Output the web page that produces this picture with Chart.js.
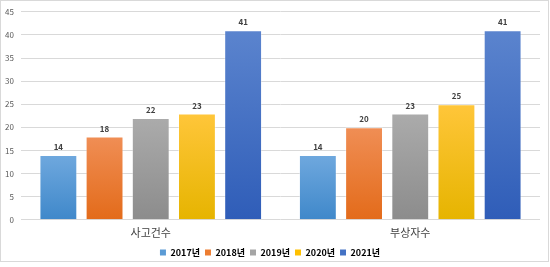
<!DOCTYPE html>
<html>
<head>
<meta charset="utf-8">
<script src="https://cdn.jsdelivr.net/npm/chart.js@4/dist/chart.umd.min.js"></script>
<style>
  html, body { margin: 0; padding: 0; background: #fff; }
  #wrap { width: 550px; height: 267px; position: relative; }
</style>
</head>
<body>
<div id="wrap"><canvas id="chart" width="550" height="267"></canvas></div>
<script>
// categories and series
const categories = ['사고건수', '부상자수'];
const years      = ['2017년', '2018년', '2019년', '2020년', '2021년'];
const v2017 = [14, 14];
const v2018 = [18, 20];
const v2019 = [22, 23];
const v2020 = [23, 25];
const v2021 = [41, 41];
const yTicks = [0, 5, 10, 15, 20, 25, 30, 35, 40, 45];

const seriesValues = [v2017, v2018, v2019, v2020, v2021];
const baseColors = ['#5B9BD5', '#ED7D31', '#A5A5A5', '#FFC000', '#4472C4'];
const topColors  = ['#6FA8DE', '#F08E55', '#ABABAB', '#FFC63A', '#5B84CE'];
const botColors  = ['#3F88CA', '#E36B1A', '#8C8C8C', '#E6B400', '#2F5DB8'];

const FONT = "'Noto Sans CJK KR', 'Noto Sans', sans-serif";

// gradient from top of each bar to the axis
function barFill(i) {
  return c => {
    const chart = c.chart;
    const y = chart.scales && chart.scales.y;
    if (!chart.chartArea || !y || c.parsed == null) return baseColors[i];
    const top = y.getPixelForValue(c.parsed.y);
    const bottom = y.getPixelForValue(0);
    const g = chart.ctx.createLinearGradient(0, top, 0, bottom);
    g.addColorStop(0, topColors[i]);
    g.addColorStop(1, botColors[i]);
    return g;
  };
}

const valueLabels = {
  id: 'valueLabels',
  afterDatasetsDraw(chart) {
    const ctx = chart.ctx;
    ctx.save();
    ctx.font = "bold 8px " + FONT;
    ctx.fillStyle = '#404040';
    ctx.textAlign = 'center';
    ctx.textBaseline = 'bottom';
    chart.data.datasets.forEach((ds, i) => {
      chart.getDatasetMeta(i).data.forEach((bar, j) => {
        ctx.fillText(ds.data[j], bar.x, bar.y - 4);
      });
    });
    ctx.restore();
  }
};

const frame = {
  id: 'frame',
  afterDraw(chart) {
    const ctx = chart.ctx;
    ctx.save();
    ctx.strokeStyle = '#d9d9d9';
    ctx.lineWidth = 1;
    ctx.strokeRect(0.5, 0.5, 548, 261);
    ctx.restore();
  }
};

new Chart(document.getElementById('chart'), {
  type: 'bar',
  data: {
    labels: categories,
    datasets: years.map((yr, i) => ({
      label: yr,
      data: seriesValues[i],
      backgroundColor: barFill(i),
      borderColor: 'rgba(255,255,255,0.35)',
      borderWidth: 1,
      barPercentage: 0.82,
      categoryPercentage: 0.89
    }))
  },
  options: {
    responsive: false,
    animation: false,
    layout: { padding: { top: 9, right: 10, left: 0, bottom: 0 } },
    scales: {
      y: {
        min: 0, max: 45,
        afterBuildTicks: s => { s.ticks = yTicks.map(v => ({ value: v })); },
        afterFit: s => { s.width = 21; },
        ticks: { color: '#595959', font: { size: 8, family: FONT }, padding: 7 },
        grid: { color: '#d9d9d9', drawTicks: false },
        border: { display: false }
      },
      x: {
        afterFit: s => { s.height -= 2; },
        grid: { display: false, drawTicks: false },
        border: { display: false },
        ticks: { color: '#404040', font: { size: 11, family: FONT }, padding: 6 }
      }
    },
    plugins: {
      legend: {
        position: 'bottom',
        labels: {
          boxWidth: 6, boxHeight: 6,
          color: '#404040',
          font: { size: 9, family: FONT, weight: 'bold' },
          padding: 5,
          generateLabels: chart => years.map((yr, i) => ({
            text: yr, fillStyle: baseColors[i], strokeStyle: baseColors[i],
            lineWidth: 0, datasetIndex: i
          }))
        }
      },
      tooltip: { enabled: false }
    }
  },
  plugins: [valueLabels, frame]
});
</script>
</body>
</html>
